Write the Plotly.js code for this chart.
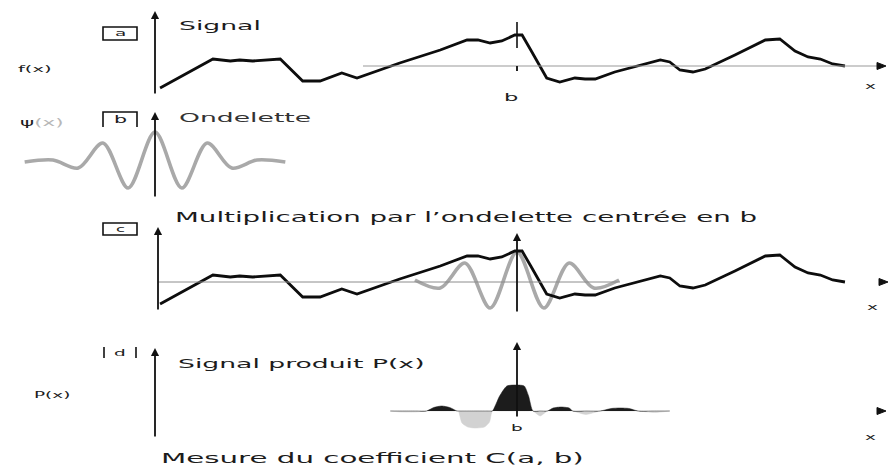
<!DOCTYPE html>
<html>
<head>
<meta charset="utf-8">
<script src="https://cdn.plot.ly/plotly-3.0.1.min.js"></script>
<style>
  html, body { margin: 0; padding: 0; background: #ffffff; }
  #chart { width: 891px; height: 468px; }
  /* wide lettering used throughout the figure */
  .annotation-text { transform-box: fill-box; transform-origin: center; transform: scaleX(2.05); }
</style>
</head>
<body>
<div id="chart"></div>
<script>
// Position along the x axis (b is the centre of the wavelet in panel c)
const B_POS = 5;

// Panel a / c : the signal f(x)
const signalX = [0.07, 0.80, 1.04, 1.17, 1.35, 1.55, 1.73, 2.04, 2.28, 2.58, 2.79, 3.38, 3.94,
                 4.31, 4.46, 4.63, 4.79, 4.97, 5.07, 5.19, 5.41, 5.59, 5.80, 5.94, 6.08, 6.35,
                 6.70, 6.98, 7.11, 7.25, 7.43, 7.60, 8.01, 8.43, 8.63, 8.84, 9.02, 9.19, 9.36, 9.53];
const signalF = [-2.2, 0.7, 0.5, 0.6, 0.5, 0.6, 0.7, -1.5, -1.5, -0.7, -1.2, 0.3, 1.6,
                 2.6, 2.6, 2.3, 2.5, 3.1, 3.1, 1.6, -1.2, -1.6, -1.2, -1.3, -1.3, -0.6,
                 0.1, 0.6, 0.4, -0.4, -0.6, -0.3, 1.1, 2.6, 2.7, 1.5, 0.9, 0.7, 0.2, 0.0];

// Panel b : the wavelet psi, offsets from its centre
const waveletDX  = [-1.80, -1.41, -1.06, -0.72, -0.37, 0, 0.37, 0.72, 1.06, 1.41, 1.80];
const waveletPsi = [0, 0.2, -0.6, 1.9, -2.6, 3.0, -2.6, 1.9, -0.6, 0.2, 0];

// Panel d : the product P(x) = f(x) * psi(x - b)
const productX = [3.25, 3.40, 3.60, 3.75, 3.85, 3.96, 4.07, 4.17, 4.19, 4.24, 4.32, 4.42, 4.55,
                  4.62, 4.66, 4.76, 4.86, 5.00, 5.10, 5.16, 5.22, 5.32, 5.42, 5.50, 5.61, 5.72,
                  5.77, 5.95, 6.15, 6.30, 6.42, 6.55, 6.67, 6.90, 7.11];
const productP = [0, -0.1, -0.1, 0, 0.35, 0.5, 0.35, 0, 0, -1.2, -1.6, -1.7, -1.6,
                  -1.1, 0, 1.5, 2.5, 2.6, 2.5, 1.5, 0, -0.5, 0, 0.3, 0.4, 0.3,
                  0, -0.35, 0, 0.25, 0.3, 0.25, 0, -0.15, 0];

// Text of the figure
const panelTitles = ['Signal', 'Ondelette', 'Multiplication par l\u2019ondelette centrée en b', 'Signal produit P(x)'];
const panelLetters = ['a', 'b', 'c', 'd'];
const footer = 'Mesure du coefficient C(a, b)';

const FONT = 'DejaVu Sans, Verdana, sans-serif';
const INK = '#1c1c1c';
const W = 891, H = 468;
const X = p => p / W;
const Y = p => 1 - p / H;

const signalLine = { color: '#0d0d0d', width: 2.8 };
const waveletLine = { color: '#a9a9a9', width: 3.6, shape: 'spline', smoothing: 0.9 };

// the shifted wavelet of panel c is drawn over its central lobes only
const innerDX = waveletDX.slice(1, -1);
const innerPsi = waveletPsi.slice(1, -1);

const traces = [
  { x: signalX, y: signalF, yaxis: 'y', mode: 'lines', line: signalLine, hoverinfo: 'skip' },
  { x: waveletDX, y: waveletPsi, yaxis: 'y2', mode: 'lines', line: waveletLine, hoverinfo: 'skip' },
  { x: innerDX.map(d => B_POS + d), y: innerPsi, yaxis: 'y3', mode: 'lines', line: waveletLine, hoverinfo: 'skip' },
  { x: signalX, y: signalF, yaxis: 'y3', mode: 'lines', line: signalLine, hoverinfo: 'skip' },
  { x: productX, y: productP.map(v => Math.min(v, 0)), yaxis: 'y4', mode: 'lines', fill: 'tozeroy',
    fillcolor: '#d2d2d2', line: { color: '#d2d2d2', width: 0.5, shape: 'spline', smoothing: 0.6 }, hoverinfo: 'skip' },
  { x: productX, y: productP.map(v => Math.max(v, 0)), yaxis: 'y4', mode: 'lines', fill: 'tozeroy',
    fillcolor: '#1c1c1c', line: { color: '#1c1c1c', width: 0.5, shape: 'spline', smoothing: 0.6 }, hoverinfo: 'skip' }
];

// x: one shared axis; every panel has its own vertical scale (10 px per unit)
const xUnit = 72.4, xOrigin = 155;
const hidden = { visible: false, fixedrange: true };
function yScale(basePx) { return [-(H - basePx) / 10, basePx / 10]; }

function label(text, x, y, size, color) {
  return { text: text, x: X(x), y: Y(y), xref: 'paper', yref: 'paper', showarrow: false,
           xanchor: 'center', yanchor: 'middle', font: { family: FONT, size: size, color: color || INK } };
}
function arrow(x, tipY, tailDX, tailDY) {
  return { text: '', x: X(x), y: Y(tipY), xref: 'paper', yref: 'paper', showarrow: true,
           ax: tailDX, ay: tailDY, arrowhead: 2, arrowsize: 0.9, arrowwidth: 1.8,
           arrowcolor: '#111111', standoff: 0 };
}
// small filled head pointing right, tip at (x, y)
function rightHead(x, y) {
  return { type: 'path', xref: 'paper', yref: 'paper', layer: 'above', fillcolor: '#111111',
           line: { color: '#111111', width: 1 },
           path: `M ${X(x)} ${Y(y)} L ${X(x - 9)} ${Y(y - 3.5)} L ${X(x - 9)} ${Y(y + 3.5)} Z` };
}

const annotations = [
  // panel a
  label('f(x)', 35, 68, 9.5),
  label(panelLetters[0], 120, 33, 9),
  label(panelTitles[0], 220, 25, 13),
  label('b', 511, 97, 11),
  label('x', 870, 86, 9),
  arrow(155, 11, 0, 84),
  // panel b
  label('\u03c8<span style="color:#b8b8b8">(x)</span>', 42, 122, 10.5),
  label(panelLetters[1], 120, 120, 10),
  label(panelTitles[1], 245, 117, 13, '#333333'),
  arrow(155, 112, 0, 86),
  // panel c
  label(panelLetters[2], 120, 229, 8),
  label(panelTitles[2], 466, 218, 13.5),
  label('x', 872, 307, 9),
  arrow(158, 227, 0, 84),
  arrow(517, 233, 0, 80),
  // panel d
  label('P(x)', 52, 395, 9),
  label(panelLetters[3], 120, 353, 9),
  label(panelTitles[3], 301, 363, 13),
  label('b', 517, 428, 9),
  label('x', 870, 437, 9),
  arrow(155, 348, 0, 90),
  arrow(517, 342, 0, 76),
  label(footer, 372, 458, 14.3)
];

const boxLine = { color: '#111111', width: 1.6 };
const shapes = [
  // baselines
  { type: 'line', xref: 'paper', yref: 'paper', x0: X(363), x1: X(878), y0: Y(66), y1: Y(66), line: { color: '#9a9a9a', width: 1.2 } },
  { type: 'line', xref: 'paper', yref: 'paper', x0: X(158), x1: X(620), y0: Y(282), y1: Y(282), line: { color: '#8c8c8c', width: 1 } },
  rightHead(886, 66),
  rightHead(888, 282),
  rightHead(886, 411),
  // b marker on the signal
  { type: 'line', xref: 'paper', yref: 'paper', x0: X(517), x1: X(517), y0: Y(22), y1: Y(48), line: { color: '#111111', width: 1.6 } },
  { type: 'line', xref: 'paper', yref: 'paper', x0: X(517), x1: X(517), y0: Y(66), y1: Y(71), line: { color: '#222222', width: 2 } },
  // panel letter frames
  { type: 'rect', xref: 'paper', yref: 'paper', x0: X(103), x1: X(137), y0: Y(27), y1: Y(40), line: boxLine },
  { type: 'path', xref: 'paper', yref: 'paper',
    path: `M ${X(103)} ${Y(127)} L ${X(103)} ${Y(112)} L ${X(137)} ${Y(112)} L ${X(137)} ${Y(127)}`, line: boxLine },
  { type: 'rect', xref: 'paper', yref: 'paper', x0: X(103), x1: X(137), y0: Y(223), y1: Y(235), line: boxLine },
  { type: 'line', xref: 'paper', yref: 'paper', x0: X(104), x1: X(104), y0: Y(347), y1: Y(358), line: boxLine },
  { type: 'line', xref: 'paper', yref: 'paper', x0: X(136), x1: X(136), y0: Y(347), y1: Y(358), line: boxLine }
];

const layout = {
  width: W, height: H,
  margin: { l: 0, r: 0, t: 0, b: 0 },
  paper_bgcolor: '#ffffff', plot_bgcolor: '#ffffff',
  showlegend: false,
  xaxis: Object.assign({ range: [-xOrigin / xUnit, (W - xOrigin) / xUnit] }, hidden),
  yaxis:  Object.assign({ range: yScale(66) }, hidden),
  yaxis2: Object.assign({ range: yScale(162), overlaying: 'y' }, hidden),
  yaxis3: Object.assign({ range: yScale(282), overlaying: 'y' }, hidden),
  yaxis4: Object.assign({ range: yScale(411), overlaying: 'y' }, hidden),
  shapes: shapes,
  annotations: annotations
};

Plotly.newPlot('chart', traces, layout, { staticPlot: true, displayModeBar: false });
</script>
</body>
</html>
